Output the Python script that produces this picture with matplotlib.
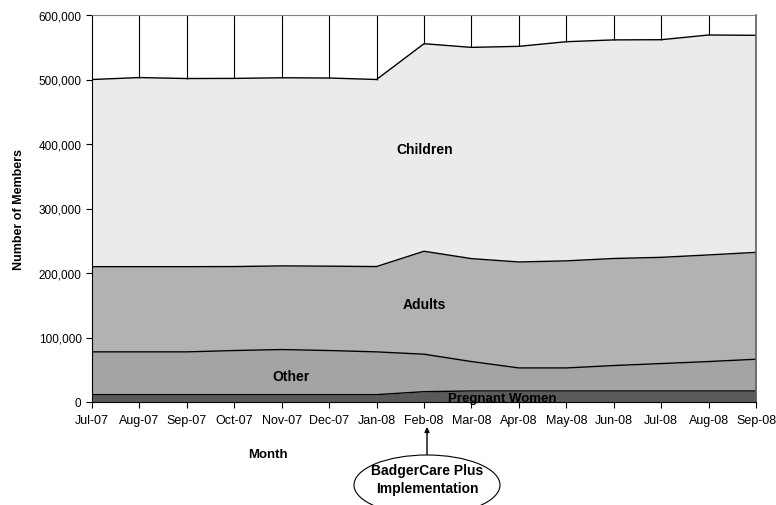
import matplotlib.pyplot as plt
import numpy as np
from matplotlib.patches import Ellipse
from matplotlib.ticker import FuncFormatter

plt.rcParams["font.family"] = ["Liberation Sans", "DejaVu Sans"]

months = ["Jul-07", "Aug-07", "Sep-07", "Oct-07", "Nov-07", "Dec-07", "Jan-08",
          "Feb-08", "Mar-08", "Apr-08", "May-08", "Jun-08", "Jul-08", "Aug-08", "Sep-08"]

# member counts per group
pregnant = [11400, 11400, 11400, 11400, 11400, 11400, 11400,
            16000, 17100, 17100, 17100, 17100, 17100, 17100, 17100]
other = [66300, 66300, 66300, 68400, 69900, 68400, 66300,
         58100, 45600, 35700, 35700, 39400, 42500, 45600, 49200]
adults = [132100, 132100, 132100, 130200, 129700, 130800, 132300,
          159600, 159600, 164300, 166000, 166000, 164700, 165300, 165700]
children = [290200, 293200, 291700, 291700, 291700, 291700, 290000,
            321800, 327500, 334300, 339800, 338900, 337400, 341000, 336500]

x = np.arange(len(months))
layers = [pregnant, other, adults, children]
colors = ["#5a5a5a", "#a4a4a4", "#b2b2b2", "#ebebeb"]

fig = plt.figure(figsize=(7.76, 5.06), dpi=100)
ax = fig.add_axes([92 / 776, 1 - 403 / 506, 664 / 776, 387 / 506])

bottom = np.zeros(len(x))
for vals, col in zip(layers, colors):
    top = bottom + np.array(vals)
    ax.fill_between(x, bottom, top, color=col, lw=0)
    ax.plot(x, top, color="black", lw=1.0)
    bottom = top

# white "headroom" series with month separators up to the top of the axis
ax.vlines(x[1:-1], bottom[1:-1], 600000, color="black", lw=0.8)

ax.set_xlim(0, len(x) - 1)
ax.set_ylim(0, 600000)
ax.set_xticks(x)
ax.set_xticklabels(months, fontsize=9)
ax.set_yticks(np.arange(0, 600001, 100000))
ax.yaxis.set_major_formatter(FuncFormatter(lambda v, p: f"{int(v):,}"))
ax.tick_params(axis="y", labelsize=8.5, length=4, width=0.8)
ax.tick_params(axis="x", length=4, width=0.8, pad=5)
for s in ax.spines.values():
    s.set_linewidth(0.8)
ax.spines["top"].set_color("#808080")
ax.spines["right"].set_color("#606060")
ax.spines["right"].set_linewidth(1.2)

ax.set_ylabel("Number of Members", fontsize=9, fontweight="bold", labelpad=10)

# group labels
ax.text(7.02, 392000, "Children", fontsize=10, fontweight="bold", ha="center", va="center")
ax.text(7.0, 152000, "Adults", fontsize=10, fontweight="bold", ha="center", va="center")
ax.text(4.2, 40000, "Other", fontsize=10, fontweight="bold", ha="center", va="center")
ax.text(8.65, 5500, "Pregnant Women", fontsize=9.5, fontweight="bold", ha="center", va="center")

fig.text(268 / 776, 1 - 455 / 506, "Month", fontsize=9.5, fontweight="bold", ha="center", va="center")

# callout for the program launch
cx, cy = 427 / 776, 1 - 486 / 506
ell = Ellipse((cx, cy), 146 / 776, 60 / 506, transform=fig.transFigure,
              facecolor="white", edgecolor="black", lw=0.8)
fig.patches.append(ell)
fig.text(cx, 1 - 480 / 506, "BadgerCare Plus\nImplementation", fontsize=10, fontweight="bold",
         ha="center", va="center", linespacing=1.45)
ax.annotate("", xy=(cx, 1 - 428 / 506), xycoords="figure fraction",
            xytext=(cx, 1 - 456 / 506), textcoords="figure fraction",
            arrowprops=dict(arrowstyle="-|>", color="black", lw=1.0, mutation_scale=7,
                            shrinkA=0, shrinkB=0),
            annotation_clip=False)

fig.savefig("out.png", dpi=100)
